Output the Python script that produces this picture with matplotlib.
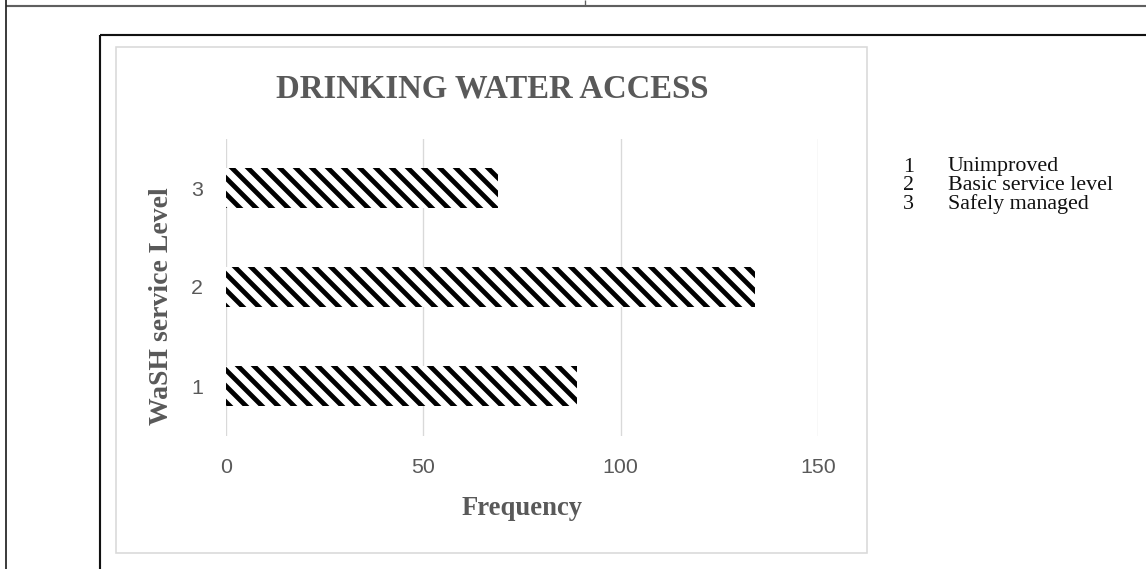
import matplotlib
matplotlib.use("Agg")
import matplotlib.pyplot as plt
from matplotlib.lines import Line2D
from matplotlib.patches import Rectangle

# Survey results: drinking water service level vs. number of households
levels = [1, 2, 3]
frequency = [89, 134, 69]
level_names = ["Unimproved", "Basic service level", "Safely managed"]
x_ticks = [0, 50, 100, 150]

W, H, DPI = 1146, 569, 96
plt.rcParams["hatch.linewidth"] = 3.6

fig = plt.figure(figsize=(W / DPI, H / DPI), dpi=DPI)
fig.patch.set_facecolor("white")


def fx(x):
    return x / W


def fy(y):
    return 1 - y / H


def hline(x0, x1, y, color, lw):
    fig.add_artist(Line2D([fx(x0), fx(x1)], [fy(y), fy(y)], transform=fig.transFigure,
                          color=color, lw=lw, solid_capstyle="butt"))


def vline(x, y0, y1, color, lw):
    fig.add_artist(Line2D([fx(x), fx(x)], [fy(y0), fy(y1)], transform=fig.transFigure,
                          color=color, lw=lw, solid_capstyle="butt"))


# page / table borders
hline(6, W, 5.7, "#5f5f5f", 1.6)
vline(6, 0, H, "#222222", 1.3)
vline(585, 0, 5.7, "#5f5f5f", 1.0)
hline(100, W, 35, "#111111", 1.6)
vline(100, 35, H, "#111111", 1.6)

# chart area border
fig.add_artist(Rectangle((fx(116), fy(553)), fx(867) - fx(116), fy(47) - fy(553),
                         transform=fig.transFigure, fill=False,
                         edgecolor="#d9d9d9", lw=1.2))

ax = fig.add_axes([fx(226), fy(435.5), (818 - 226) / W, 297 / H])
ax.set_facecolor("none")
ax.barh(levels, frequency, height=0.4, color="white", edgecolor="black",
        linewidth=0, hatch="\\\\")

ax.set_xlim(0, 150)
ax.set_ylim(0.5, 3.5)
ax.set_xticks(x_ticks)
ax.set_yticks(levels)
ax.grid(axis="x", color="#d9d9d9", lw=1.0)
ax.grid(axis="y", visible=False)
ax.set_axisbelow(True)
for s in ax.spines.values():
    s.set_visible(False)
ax.tick_params(length=0, labelsize=16, labelcolor="#595959", pad=17)
for lab in ax.get_xticklabels() + ax.get_yticklabels():
    lab.set_fontfamily("Liberation Sans")

serif = "Liberation Serif"
fig.text(fx(492), fy(98), "DRINKING WATER ACCESS", ha="center", va="baseline",
         fontsize=24.6, fontweight="bold", family=serif, color="#595959")
fig.text(fx(522), fy(515), "Frequency", ha="center", va="baseline",
         fontsize=20, fontweight="bold", family=serif, color="#595959")
fig.text(fx(162), fy(306), "WaSH service Level", ha="center", va="center",
         rotation=90, fontsize=20.8, fontweight="bold", family=serif, color="#595959")

# level key
for i, (lv, name) in enumerate(zip(levels, level_names)):
    yb = 171.5 + i * 18.7
    fig.text(fx(903), fy(yb), str(lv), ha="left", va="baseline",
             fontsize=16.5, family=serif, color="#111111")
    fig.text(fx(948), fy(yb), name, ha="left", va="baseline",
             fontsize=16.5, family=serif, color="#111111")

fig.savefig("out.png", dpi=DPI, facecolor="white")
